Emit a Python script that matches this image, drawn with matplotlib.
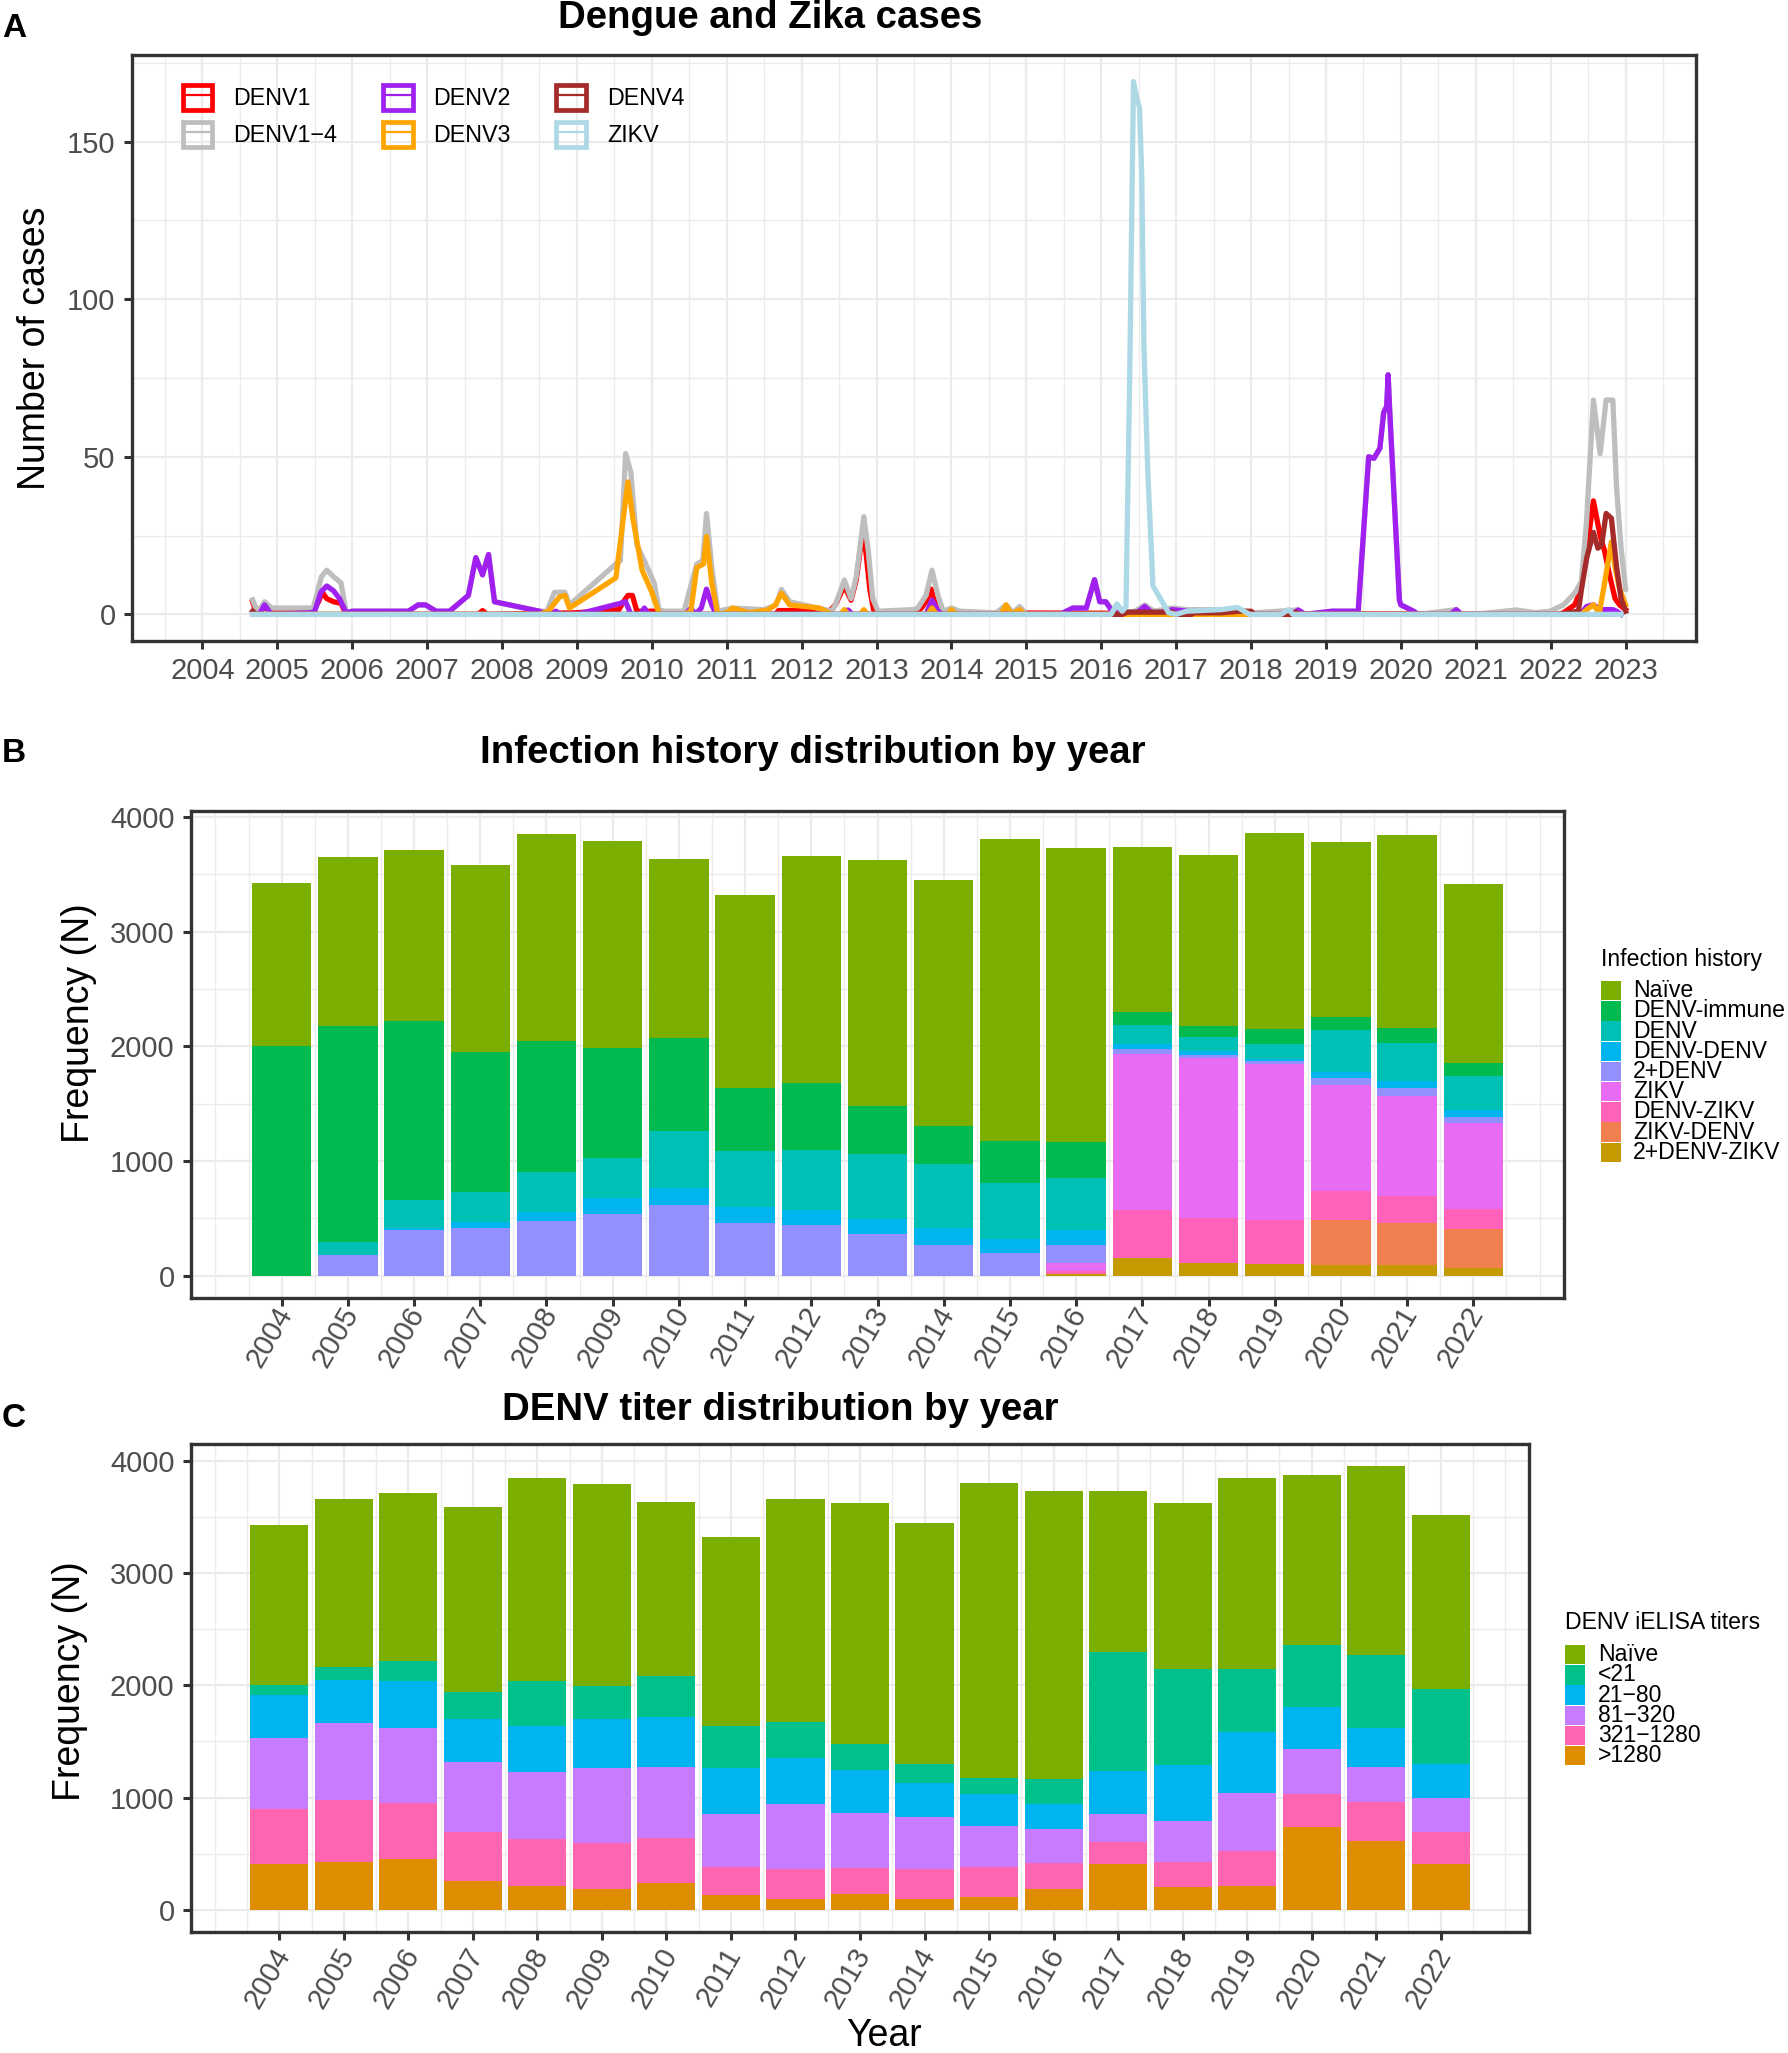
import numpy as np
import matplotlib.pyplot as plt
from matplotlib.patches import Patch, Rectangle
from matplotlib.lines import Line2D
from matplotlib.transforms import ScaledTranslation

plt.rcParams['font.family'] = ['Liberation Sans', 'DejaVu Sans']

W, H, DPI = 1788, 2053, 200

# ---- panel A: monthly cases (vertices) ----
denv1_t = [2004.67, 2004.72, 2004.78, 2005.0, 2005.48, 2005.55, 2005.60, 2005.66, 2005.75, 2005.85, 2005.92,
           2007.68, 2007.74, 2007.80, 2008.98, 2009.56, 2009.62, 2009.68, 2009.74, 2009.80, 2010.14, 2010.18,
           2011.65, 2011.69, 2012.38, 2012.45, 2012.57, 2012.66, 2012.73, 2012.78, 2012.83, 2012.87, 2012.91,
           2012.96, 2013.0, 2013.51, 2013.60, 2013.66, 2013.73, 2013.80, 2013.86, 2022.10, 2022.17, 2022.32,
           2022.39, 2022.48, 2022.57, 2022.66, 2022.72, 2022.79, 2022.86, 2022.92, 2023.0]
denv1_n = [4, 0.5, 2, 1.5, 1.2, 4, 7, 5, 4, 3.5, 0,
           0, 1.2, 0, 0.5, 1.5, 4, 6, 6, 1, 1, 0,
           0, 1.2, 1.2, 3, 9, 4.5, 11, 20, 26, 17, 8,
           1.5, 0, 0.5, 2, 4, 8, 2, 0.5, 0, 0.5, 3,
           7, 20, 36, 25, 20, 12, 5, 3, 1.5]

denv14_t = [2004.67, 2004.74, 2004.83, 2004.92, 2005.48, 2005.59, 2005.66, 2005.75, 2005.85, 2005.92, 2006.0,
            2006.75, 2006.88, 2006.98, 2007.12, 2007.30, 2007.55, 2007.65, 2007.74, 2007.82, 2007.90, 2008.50,
            2008.60, 2008.70, 2008.84, 2008.90, 2009.52, 2009.58, 2009.65, 2009.72, 2009.80, 2009.90, 2010.03,
            2010.10, 2010.43, 2010.60, 2010.68, 2010.73, 2010.80, 2010.88, 2011.08, 2011.50, 2011.66, 2011.73,
            2011.84, 2012.40, 2012.45, 2012.57, 2012.66, 2012.73, 2012.83, 2012.89, 2012.95, 2013.02, 2013.49,
            2013.55, 2013.66, 2013.74, 2013.82, 2013.89, 2014.00, 2014.11, 2014.60, 2014.73, 2014.82, 2014.91,
            2015.0, 2015.45, 2015.62, 2015.80, 2015.91, 2015.98, 2016.06, 2016.13, 2016.24, 2016.45, 2016.58,
            2016.70, 2016.95, 2017.15, 2017.80, 2018.05, 2018.63, 2018.72, 2019.08, 2019.43, 2019.57, 2019.64,
            2019.72, 2019.77, 2019.81, 2019.83, 2019.85, 2019.98, 2020.0, 2020.17, 2020.23, 2020.74, 2020.81,
            2021.10, 2021.54, 2021.80, 2021.99, 2022.17, 2022.32, 2022.41, 2022.48, 2022.57, 2022.66, 2022.74,
            2022.83, 2022.88, 2022.94, 2023.0]
denv14_n = [4.6, 0.5, 4, 2, 2, 12, 14, 12, 10, 0.5, 1,
            1, 3, 3, 1, 1, 6, 18, 13, 19, 4, 1,
            1, 7, 7, 3, 16, 17, 51, 45, 22, 17, 10,
            1, 1, 16, 17, 32, 15, 1, 2, 1.5, 3, 7.9,
            4, 1, 3, 10.9, 5, 12, 31, 20, 5, 1, 1.5,
            2, 6, 14, 6, 1, 2, 1, 0.5, 3, 0.5, 2.5,
            0, 0, 2, 2, 11, 4, 4, 2, 0.5, 1, 3,
            1, 2, 1.5, 1.5, 0.5, 1.4, 0, 1, 1, 50, 49.5,
            52.7, 64, 66, 76, 65, 4.5, 3, 1, 0, 1.5, 0,
            0.3, 1.4, 0.5, 1, 3, 6.7, 10.4, 30, 68, 51, 68,
            68, 40, 21, 8]

denv2_t = [2004.67, 2004.76, 2004.83, 2004.92, 2005.45, 2005.50, 2005.58, 2005.66, 2005.75, 2005.83, 2005.92,
           2006.0, 2006.75, 2006.88, 2006.98, 2007.12, 2007.30, 2007.55, 2007.65, 2007.74, 2007.82, 2007.90,
           2008.50, 2008.62, 2008.72, 2008.78, 2009.00, 2009.58, 2009.65, 2009.72, 2009.85, 2009.90, 2009.96,
           2010.45, 2010.52, 2010.58, 2010.66, 2010.73, 2010.80, 2010.86, 2012.57, 2012.62, 2012.68, 2013.66,
           2013.74, 2013.82, 2013.88, 2015.45, 2015.62, 2015.80, 2015.91, 2015.98, 2016.06, 2016.13, 2016.24,
           2016.45, 2016.58, 2016.70, 2016.95, 2017.15, 2017.25, 2018.55, 2018.63, 2018.72, 2019.08, 2019.43,
           2019.57, 2019.64, 2019.72, 2019.77, 2019.81, 2019.83, 2019.85, 2019.98, 2020.0, 2020.17, 2020.23,
           2020.66, 2020.74, 2020.81, 2022.38, 2022.43, 2022.48, 2022.57, 2022.66, 2022.83, 2022.88, 2022.94]
denv2_n = [0, 0, 3, 0, 0.5, 1, 7, 9, 7.5, 5, 0.5,
           1, 1, 3, 3, 1, 1, 6, 18, 12.5, 19, 4,
           1, 0, 1, 0, 0, 3.5, 4, 0, 0, 2, 0,
           0, 2, 0, 2, 8, 3, 0, 0, 1.4, 0, 0,
           4.5, 1, 0, 0, 2, 2, 11, 4, 4, 1.5, 0,
           0, 2.5, 0, 1.5, 1, 0, 0, 1.4, 0, 1, 1,
           50, 49.5, 52.7, 64, 66, 76, 65, 4.5, 3, 1, 0,
           0, 1.5, 0, 0, 1, 2.5, 3, 1.5, 1.5, 1, 0]

denv3_t = [2004.67, 2008.50, 2008.62, 2008.77, 2008.84, 2008.90, 2009.52, 2009.68, 2009.75, 2009.87, 2010.0,
           2010.10, 2010.43, 2010.52, 2010.60, 2010.69, 2010.73, 2010.80, 2010.88, 2011.0, 2011.08, 2011.30,
           2011.55, 2011.65, 2011.73, 2011.84, 2012.24, 2012.40, 2012.52, 2012.57, 2012.62, 2012.78, 2012.83,
           2012.88, 2013.68, 2013.74, 2013.80, 2013.95, 2014.0, 2014.06, 2014.66, 2014.73, 2014.80, 2014.91,
           2014.98, 2022.41, 2022.48, 2022.57, 2022.65, 2022.72, 2022.81, 2022.86, 2022.92, 2023.0]
denv3_n = [0, 0, 1, 5.6, 6, 2, 11.6, 42, 30, 14, 7,
           0, 0, 1, 14.8, 16, 24.7, 10, 0, 0.5, 2, 0.5,
           1.4, 3, 6.7, 3, 2, 0, 0, 1.5, 0, 0, 1.5,
           0, 0, 2, 0, 0, 1.5, 0, 0, 3, 0, 1.5,
           0, 0, 1.5, 3, 0.5, 10, 23, 15, 8, 3]

denv4_t = [2004.67, 2004.72, 2016.28, 2016.35, 2016.95, 2017.0, 2017.2, 2017.25, 2017.6, 2017.85, 2018.0,
           2018.05, 2018.55, 2018.60, 2018.65, 2022.10, 2022.37, 2022.41, 2022.48, 2022.57, 2022.63, 2022.68,
           2022.74, 2022.81, 2022.88, 2022.94, 2023.0]
denv4_n = [1, 0, 0, 0.7, 0.7, 0, 0, 0.5, 0.5, 1, 1,
           0, 0, 0.7, 0, 0, 1, 7.8, 17.8, 26, 21, 22,
           32, 30.5, 15, 5, 1]

zikv_t = [2004.67, 2016.13, 2016.21, 2016.28, 2016.33, 2016.38, 2016.43, 2016.48, 2016.51, 2016.54, 2016.57,
          2016.62, 2016.69, 2016.90, 2017.0, 2017.14, 2017.60, 2017.82, 2017.98, 2018.40, 2018.50, 2018.56,
          2022.94]
zikv_n = [0, 0, 3.3, 1, 2.4, 76, 169, 163, 161, 140, 85,
          46, 9, 0.5, 0, 1, 1.5, 2.2, 0, 0, 1.5, 0,
          0]

# ---- panel B: infection history by year ----
years = list(range(2004, 2023))
hist_labels = ["Naïve", "DENV-immune", "DENV", "DENV-DENV", "2+DENV", "ZIKV", "DENV-ZIKV", "ZIKV-DENV",
               "2+DENV-ZIKV"]
naive_b = [1422, 1478, 1492, 1627, 1803, 1800, 1557, 1681, 1982, 2148, 2144, 2635, 2561, 1438, 1495, 1707, 1524,
           1680, 1558]
immune_b = [2005, 1876, 1557, 1223, 1143, 961, 816, 553, 580, 418, 332, 364, 315, 113, 89, 129, 113, 129, 113]
denv_b = [0, 119, 242, 265, 345, 351, 497, 487, 520, 563, 553, 491, 454, 169, 126, 136, 364, 335, 298]
denvdenv_b = [0, 0, 23, 46, 79, 136, 142, 136, 130, 136, 149, 122, 133, 40, 30, 10, 60, 60, 66]
twodenv_b = [0, 179, 398, 421, 481, 540, 620, 464, 447, 361, 272, 196, 152, 43, 33, 27, 56, 66, 50]
zikv_b = [0] * 12 + [73, 1358, 1389, 1359, 922, 875, 749]
denvzikv_b = [0] * 12 + [23, 418, 394, 384, 252, 232, 172]
zikvdenv_b = [0] * 12 + [0, 0, 0, 0, 391, 371, 345]
twodenvzikv_b = [0] * 12 + [17, 159, 113, 106, 99, 93, 66]
hist_vals = [naive_b, immune_b, denv_b, denvdenv_b, twodenv_b, zikv_b, denvzikv_b, zikvdenv_b, twodenvzikv_b]
hist_colors = ["#7CAE00", "#00BA50", "#00BFB4", "#00B5EE", "#9290FF", "#E76BF3", "#FF62B8", "#F0804F", "#C49A00"]

# ---- panel C: DENV titers by year ----
titer_labels = ["Naïve", "<21", "21\u221280", "81\u2212320", "321\u22121280", ">1280"]
naive_c = [1421, 1494, 1494, 1642, 1802, 1802, 1551, 1684, 1989, 2142, 2149, 2626, 2560, 1432, 1479, 1695, 1509,
           1680, 1547]
lt21_c = [95, 118, 182, 248, 407, 286, 366, 373, 320, 236, 167, 144, 225, 1060, 853, 568, 556, 655, 671]
t21_80_c = [381, 385, 420, 381, 412, 442, 438, 408, 408, 381, 301, 282, 221, 381, 499, 545, 370, 340, 297]
t81_320_c = [633, 682, 666, 621, 594, 663, 636, 472, 579, 488, 465, 366, 305, 251, 362, 514, 403, 320, 305]
t321_1280_c = [487, 556, 496, 438, 419, 411, 400, 248, 263, 228, 263, 267, 228, 194, 225, 312, 294, 343, 285]
gt1280_c = [408, 423, 453, 255, 210, 187, 240, 133, 99, 145, 99, 114, 187, 408, 202, 210, 739, 613, 408]
titer_vals = [naive_c, lt21_c, t21_80_c, t81_320_c, t321_1280_c, gt1280_c]
titer_colors = ["#7CAE00", "#00C08B", "#00B4F0", "#C77CFF", "#FF64B0", "#DE8C00"]


def fx(x):
    return x / W


def fy(y):
    return 1 - y / H


def style(ax):
    ax.set_facecolor("white")
    for s in ax.spines.values():
        s.set_color("#333333")
        s.set_linewidth(1.2)
    ax.tick_params(which="major", length=2.9, width=1.1, color="#333333", labelcolor="#4D4D4D",
                   labelsize=10.5, pad=3)
    ax.tick_params(which="minor", length=0)
    ax.grid(which="major", color="#EBEBEB", lw=0.8)
    ax.grid(which="minor", color="#EBEBEB", lw=0.5)
    ax.set_axisbelow(True)


fig = plt.figure(figsize=(W / DPI, H / DPI), dpi=DPI)

# ---------------- A ----------------
axA = fig.add_axes([fx(132), fy(641), 1564 / W, 586 / H])
style(axA)
series = [("DENV1", denv1_t, denv1_n, "#FF0000"),
          ("DENV1\u22124", denv14_t, denv14_n, "#BEBEBE"),
          ("DENV2", denv2_t, denv2_n, "#A020F0"),
          ("DENV3", denv3_t, denv3_n, "#FFA500"),
          ("DENV4", denv4_t, denv4_n, "#A52A2A"),
          ("ZIKV", zikv_t, zikv_n, "#ADD8E6")]
handles, names = [], []
for name, t, n, c in series:
    axA.plot(t, n, color=c, lw=1.9, solid_joinstyle="round")
    handles.append((Patch(facecolor="none", edgecolor=c, lw=1.7), Line2D([], [], color=c, lw=0.8)))
    names.append(name)
ymax = max(zikv_n)
axA.set_ylim(-0.05 * ymax, 1.05 * ymax)
axA.set_xlim(2003.06, 2023.94)
axA.set_xticks(range(2004, 2024))
axA.set_xticks(np.arange(2003.5, 2024, 1.0), minor=True)
axA.set_yticks([0, 50, 100, 150])
axA.set_yticks([25, 75, 125, 175], minor=True)
axA.set_ylabel("Number of cases", fontsize=13.5)
axA.yaxis.set_label_coords(-0.0505, 0.5)
axA.legend(handles, names, ncol=3, fontsize=8.4, frameon=False, loc="upper left",
           bbox_to_anchor=(50.5 / 1564, 1 - 30 / 586), borderaxespad=0, borderpad=0,
           handlelength=1.28, handleheight=1.25, handletextpad=0.9, columnspacing=1.95, labelspacing=0.5)


def stacked(ax, vals, colors, label_dx, label_dy):
    bottom = np.zeros(len(years))
    for v, c in zip(vals[::-1], colors[::-1]):
        ax.bar(years, v, bottom=bottom, width=0.9, color=c, linewidth=0)
        bottom += np.array(v)
    top = bottom.max()
    ax.set_ylim(-0.05 * top, 1.05 * top)
    ax.set_xlim(2002.63, 2023.37)
    ax.set_xticks(years)
    ax.set_xticks([2003, 2023] + list(np.arange(2003.5, 2023, 1.0)), minor=True)
    ax.set_yticks([0, 1000, 2000, 3000, 4000])
    ax.set_yticks([500, 1500, 2500, 3500], minor=True)
    ax.tick_params(axis="x", which="major", pad=2.5)
    off = ScaledTranslation(label_dx / DPI, label_dy / DPI, fig.dpi_scale_trans)
    for lab in ax.get_xticklabels():
        lab.set_rotation(60)
        lab.set_ha("right")
        lab.set_va("top")
        lab.set_rotation_mode("anchor")
        lab.set_transform(lab.get_transform() + off)


def key_legend(title, labels, colors, x_key, y_title, y_first, x_text):
    fig.text(fx(x_key), fy(y_title), title, fontsize=8.3, va="baseline", ha="left")
    for i, (lab, col) in enumerate(zip(labels, colors)):
        top = y_first + i * 20.2
        fig.add_artist(Rectangle((fx(x_key), fy(top + 19.3)), 20 / W, 19.3 / H, transform=fig.transFigure,
                                 facecolor=col, edgecolor="none"))
        fig.text(fx(x_text), fy(top + 9.7), lab, fontsize=8.3, va="center", ha="left")


# ---------------- B ----------------
axB = fig.add_axes([fx(191), fy(1298), 1373 / W, 487 / H])
style(axB)
stacked(axB, hist_vals, hist_colors, -8, 11)
axB.set_ylabel("Frequency (N)", fontsize=13.5)
axB.yaxis.set_label_coords(-0.0685, 0.565)
key_legend("Infection history", hist_labels, hist_colors, 1601, 966, 981, 1633)

# ---------------- C ----------------
axC = fig.add_axes([fx(191), fy(1932), 1338 / W, 488 / H])
style(axC)
stacked(axC, titer_vals, titer_colors, -8, 4)
axC.set_ylabel("Frequency (N)", fontsize=13.5)
axC.yaxis.set_label_coords(-0.077, 0.514)
axC.set_xlabel("Year", fontsize=13.5, va="top")
axC.xaxis.set_label_coords(0.518, -0.176)
key_legend("DENV iELISA titers", titer_labels, titer_colors, 1565, 1629, 1645, 1598)

# titles and panel letters
fig.text(fx(770), fy(28), "Dengue and Zika cases", fontsize=13.8, fontweight="bold", ha="center", va="baseline")
fig.text(fx(813), fy(763), "Infection history distribution by year", fontsize=13.8, fontweight="bold",
         ha="center", va="baseline")
fig.text(fx(780), fy(1420), "DENV titer distribution by year", fontsize=13.8, fontweight="bold",
         ha="center", va="baseline")
for letter, yb in [("A", 37), ("B", 762), ("C", 1427)]:
    fig.text(fx(2), fy(yb), letter, fontsize=12, fontweight="bold", ha="left", va="baseline")

fig.savefig("out.png", dpi=DPI, facecolor="white")
